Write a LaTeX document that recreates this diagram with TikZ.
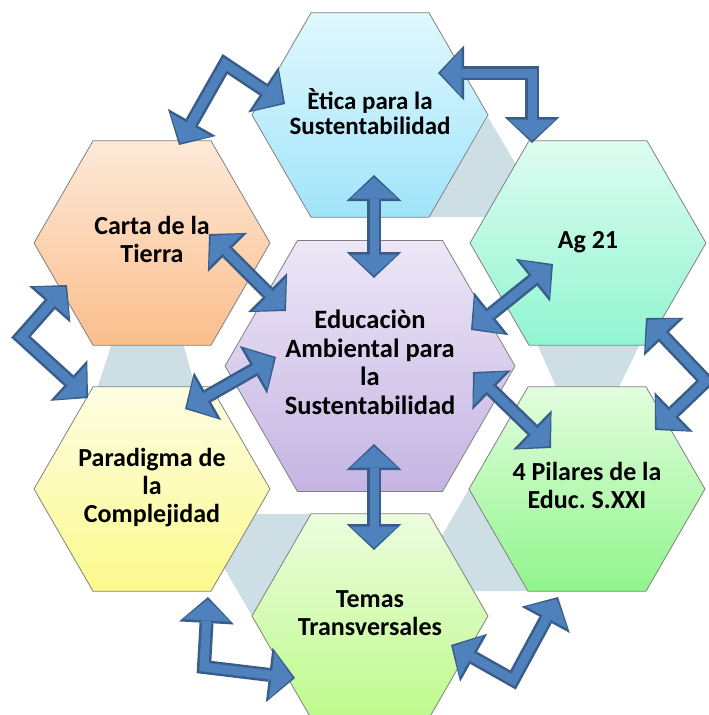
\documentclass[tikz,border=0pt]{standalone}
\usepackage{fontspec}
\setmainfont{Carlito}
\usetikzlibrary{arrows.meta, calc, shapes.geometric, backgrounds}

\definecolor{arrowfill}{RGB}{79,129,189}
\definecolor{arrowline}{RGB}{56,93,138}
\definecolor{gapgray}{RGB}{205,222,229}
\definecolor{hexline}{RGB}{128,128,128}

% lines of a hexagon label, with no width of their own
\newcommand{\hextext}[1]{\makebox[0pt]{\begin{tabular}{@{}c@{}}#1\end{tabular}}}

\begin{document}
\frenchspacing
\begin{tikzpicture}[x = 1pt, y = -1pt,
		hexa/.style = {regular polygon, regular polygon sides=6, minimum size=236pt, inner sep=0pt,
			draw=hexline, line width=0.8pt, font=\fontsize{26}{28}\selectfont\bfseries},
		bighexa/.style = {hexa, minimum size=290pt, font=\fontsize{26.5}{28.5}\selectfont\bfseries},
		blockarrow/.style = {draw=arrowfill, line width=9pt, line join=miter,
			{Triangle[length=21pt, width=47pt, line width=0pt]}-{Triangle[length=21pt, width=47pt, line width=0pt]},
			shorten <=2.5pt, shorten >=2.5pt,
			preaction={draw=arrowline, line width=14pt, shorten <=0pt, shorten >=0pt,
				{Triangle[length=26pt, width=55pt, line width=0pt]}-{Triangle[length=26pt, width=55pt, line width=0pt]}}}]
	\useasboundingbox (0,0) rectangle (709,715);

	% hexagons
	\node[bighexa, top color={rgb,255:red,237;green,231;blue,247}, bottom color={rgb,255:red,197;green,180;blue,227}]
		(centre) at (370,366) {\hextext{Educaciòn\\Ambiental para\\la\\Sustentabilidad}};
	\node[hexa, top color={rgb,255:red,224;green,248;blue,253}, bottom color={rgb,255:red,160;green,228;blue,250},
		font=\fontsize{25}{24}\selectfont\bfseries]
		(etica) at (370,115) {\hextext{Ètica para la\\Sustentabilidad}};
	\node[hexa, top color={rgb,255:red,222;green,252;blue,241}, bottom color={rgb,255:red,145;green,245;blue,210}]
		(ag) at (588,243) {\hextext{Ag 21}};
	\node[hexa, top color={rgb,255:red,226;green,253;blue,222}, bottom color={rgb,255:red,145;green,245;blue,140}]
		(pilares) at (587,489) {\hextext{4 Pilares de la\\Educ. S.XXI}};
	\node[hexa, top color={rgb,255:red,236;green,253;blue,222}, bottom color={rgb,255:red,190;green,250;blue,140}]
		(temas) at (370,616) {\hextext{Temas\\Transversales}};
	\node[hexa, top color={rgb,255:red,253;green,253;blue,226}, bottom color={rgb,255:red,252;green,250;blue,140}]
		(paradigma) at (152,489) {\hextext{Paradigma de\\la\\Complejidad}};
	\node[hexa, top color={rgb,255:red,253;green,233;blue,216}, bottom color={rgb,255:red,251;green,190;blue,140}]
		(carta) at (152,243) {\hextext{Carta de la\\Tierra}};

	% gaps between the hexagons
	\begin{pgfonlayer}{background}
		\fill[gapgray] ($(etica)+(118,2)$) -- ($(etica)+(59,102)$) -- ($(etica)+(177,102)$) -- cycle;
		\fill[gapgray] ($(ag)+(-51,101)$) -- ($(ag)+(52,101)$) -- ($(ag)+(30,146)$) -- ($(ag)+(-31,146)$) -- cycle;
		\fill[gapgray] ($(pilares)+(-118,0)$) -- ($(pilares)+(-177,102)$) -- ($(pilares)+(-59,102)$) -- cycle;
		\fill[gapgray] ($(temas)+(-177,-102)$) -- ($(temas)+(-59,-102)$) -- ($(temas)+(-118,0)$) -- cycle;
		\fill[gapgray] ($(carta)+(-40,100)$) -- ($(carta)+(31,100)$) -- ($(carta)+(44,146)$) -- ($(carta)+(-55,146)$) -- cycle;
	\end{pgfonlayer}

	% arrows to the centre
	\draw[blockarrow] ($(etica)+(4,60)$) -- ($(centre)+(4,-88)$);
	\draw[blockarrow] ($(centre)+(4,78)$) -- ($(temas)+(4,-66)$);
	\draw[blockarrow] ($(carta)+(57,-9)$) -- ($(centre)+(-84,-55)$);
	\draw[blockarrow] ($(centre)+(-94,-9)$) -- ($(paradigma)+(33,-80)$);
	\draw[blockarrow] ($(centre)+(101,-36)$) -- ($(ag)+(-35,21)$);
	\draw[blockarrow] ($(centre)+(103,6)$) -- ($(pilares)+(-36,-41)$);

	% arrows round the ring
	\draw[blockarrow] ($(carta)+(27,-98)$) -- ($(etica)+(-145,-51)$) -- ($(etica)+(-85,-11)$);
	\draw[blockarrow] ($(etica)+(68,-42)$) -- ($(ag)+(-56,-170)$) -- ($(ag)+(-56,-100)$);
	\draw[blockarrow] ($(ag)+(58,75)$) -- ($(pilares)+(119,-108)$) -- ($(pilares)+(68,-59)$);
	\draw[blockarrow] ($(pilares)+(-29,108)$) -- ($(temas)+(143,64)$) -- ($(temas)+(81,29)$);
	\draw[blockarrow] ($(paradigma)+(56,108)$) -- ($(temas)+(-166,51)$) -- ($(temas)+(-75,62)$);
	\draw[blockarrow] ($(carta)+(-85,42)$) -- ($(paradigma)+(-131,-152)$) -- ($(paradigma)+(-64,-91)$);
\end{tikzpicture}
\end{document}
